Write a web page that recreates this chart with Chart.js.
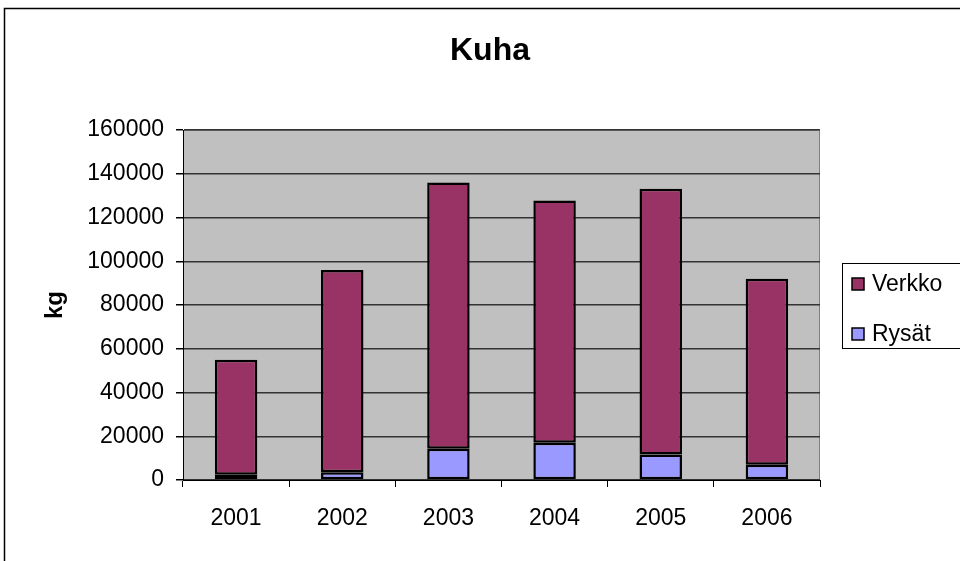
<!DOCTYPE html>
<html lang="fi">

<head>
    <meta charset="UTF-8" />
    <title>Kuha</title>
    <script src="https://cdn.jsdelivr.net/npm/chart.js"></script>
    <style>
        html, body { margin: 0; padding: 0; background: #fff; }
        #wrap { width: 960px; height: 561px; position: relative; }
    </style>
</head>

<body>
    <div id="wrap">
        <canvas id="grafico_kuha"></canvas>
    </div>
</body>

</html>
<script>
    // data (kg)
    const vuodet = ['2001', '2002', '2003', '2004', '2005', '2006'];
    const rysat = [2400, 3500, 14300, 17000, 11700, 7000];
    const verkko = [52600, 92500, 121700, 110800, 121500, 85000];
    const otsikko = 'Kuha';
    const yAkseli = 'kg';
    const yMax = 160000;
    const yAskel = 20000;

    const fontti = "'Liberation Sans', Arial, sans-serif";

    // chart frame, plot background, title, axis title and legend
    const kehys = {
        id: 'kehys',
        beforeDraw(chart) {
            const ctx = chart.ctx;
            const a = chart.chartArea;
            ctx.save();
            ctx.fillStyle = '#fff';
            ctx.fillRect(0, 0, chart.width, chart.height);
            ctx.strokeStyle = '#000';
            ctx.lineWidth = 1.5;
            ctx.strokeRect(4.5, 8.5, 1200, 1000);
            ctx.fillStyle = '#c0c0c0';
            ctx.fillRect(a.left, a.top, a.right - a.left, a.bottom - a.top);
            ctx.strokeStyle = '#808080';
            ctx.lineWidth = 1;
            ctx.beginPath();
            ctx.moveTo(a.left, a.top + 0.5);
            ctx.lineTo(a.right - 0.5, a.top + 0.5);
            ctx.lineTo(a.right - 0.5, a.bottom);
            ctx.stroke();
            ctx.restore();
        },
        afterDraw(chart) {
            const ctx = chart.ctx;
            ctx.save();
            ctx.fillStyle = '#000';

            // title
            ctx.textAlign = 'center';
            ctx.textBaseline = 'alphabetic';
            ctx.font = 'bold 32px ' + fontti;
            ctx.fillText(otsikko, 490, 60);

            // y axis title
            ctx.translate(62, 305);
            ctx.rotate(-Math.PI / 2);
            ctx.font = 'bold 24px ' + fontti;
            ctx.fillText(yAkseli, 0, 0);
            ctx.setTransform(1, 0, 0, 1, 0, 0);

            // legend
            ctx.fillStyle = '#fff';
            ctx.fillRect(842, 263, 200, 85);
            ctx.strokeStyle = '#000';
            ctx.lineWidth = 1;
            ctx.strokeRect(842.5, 263.5, 200, 85);
            ctx.font = '23px ' + fontti;
            ctx.textAlign = 'left';
            const sarjat = chart.data.datasets.slice().reverse();
            sarjat.forEach((ds, i) => {
                const y = 278 + i * 50;
                ctx.fillStyle = ds.backgroundColor;
                ctx.fillRect(852, y, 12, 12);
                ctx.strokeStyle = '#000';
                ctx.lineWidth = 1.5;
                ctx.strokeRect(852, y, 12, 12);
                ctx.fillStyle = '#000';
                ctx.fillText(ds.label, 872, y + 13);
            });
            ctx.restore();
        }
    };

    const dataKuha = {
        labels: vuodet,
        datasets: [{
            label: 'Rysät',
            data: rysat,
            backgroundColor: '#9999ff',
            borderColor: '#000',
            borderWidth: 2.5,
            borderSkipped: false
        }, {
            label: 'Verkko',
            data: verkko,
            backgroundColor: '#993366',
            borderColor: '#000',
            borderWidth: 2.5,
            borderSkipped: false
        }]
    };

    const config = {
        type: 'bar',
        data: dataKuha,
        options: {
            responsive: true,
            maintainAspectRatio: false,
            animation: false,
            devicePixelRatio: 1,
            layout: {
                padding: { top: 130, right: 140, left: 0, bottom: 0 }
            },
            plugins: {
                legend: { display: false },
                tooltip: { enabled: false }
            },
            datasets: {
                bar: { categoryPercentage: 1, barPercentage: 0.4 }
            },
            scales: {
                x: {
                    stacked: true,
                    afterFit(s) { s.height = 81; },
                    grid: {
                        drawOnChartArea: false,
                        offset: true,
                        tickLength: 7,
                        tickColor: '#000'
                    },
                    border: { color: '#000', width: 1 },
                    ticks: {
                        color: '#000',
                        padding: 18,
                        font: { family: fontti, size: 23 }
                    }
                },
                y: {
                    stacked: true,
                    min: 0,
                    max: yMax,
                    afterFit(s) { s.width = 183; },
                    grid: {
                        color: '#333',
                        lineWidth: 1.5,
                        tickLength: 7,
                        tickColor: '#000'
                    },
                    border: { color: '#000', width: 1 },
                    ticks: {
                        stepSize: yAskel,
                        color: '#000',
                        padding: 12,
                        font: { family: fontti, size: 23 },
                        callback: v => String(v)
                    }
                }
            }
        },
        plugins: [kehys]
    };

    const grafiikka = new Chart(document.getElementById('grafico_kuha'), config);
</script>
